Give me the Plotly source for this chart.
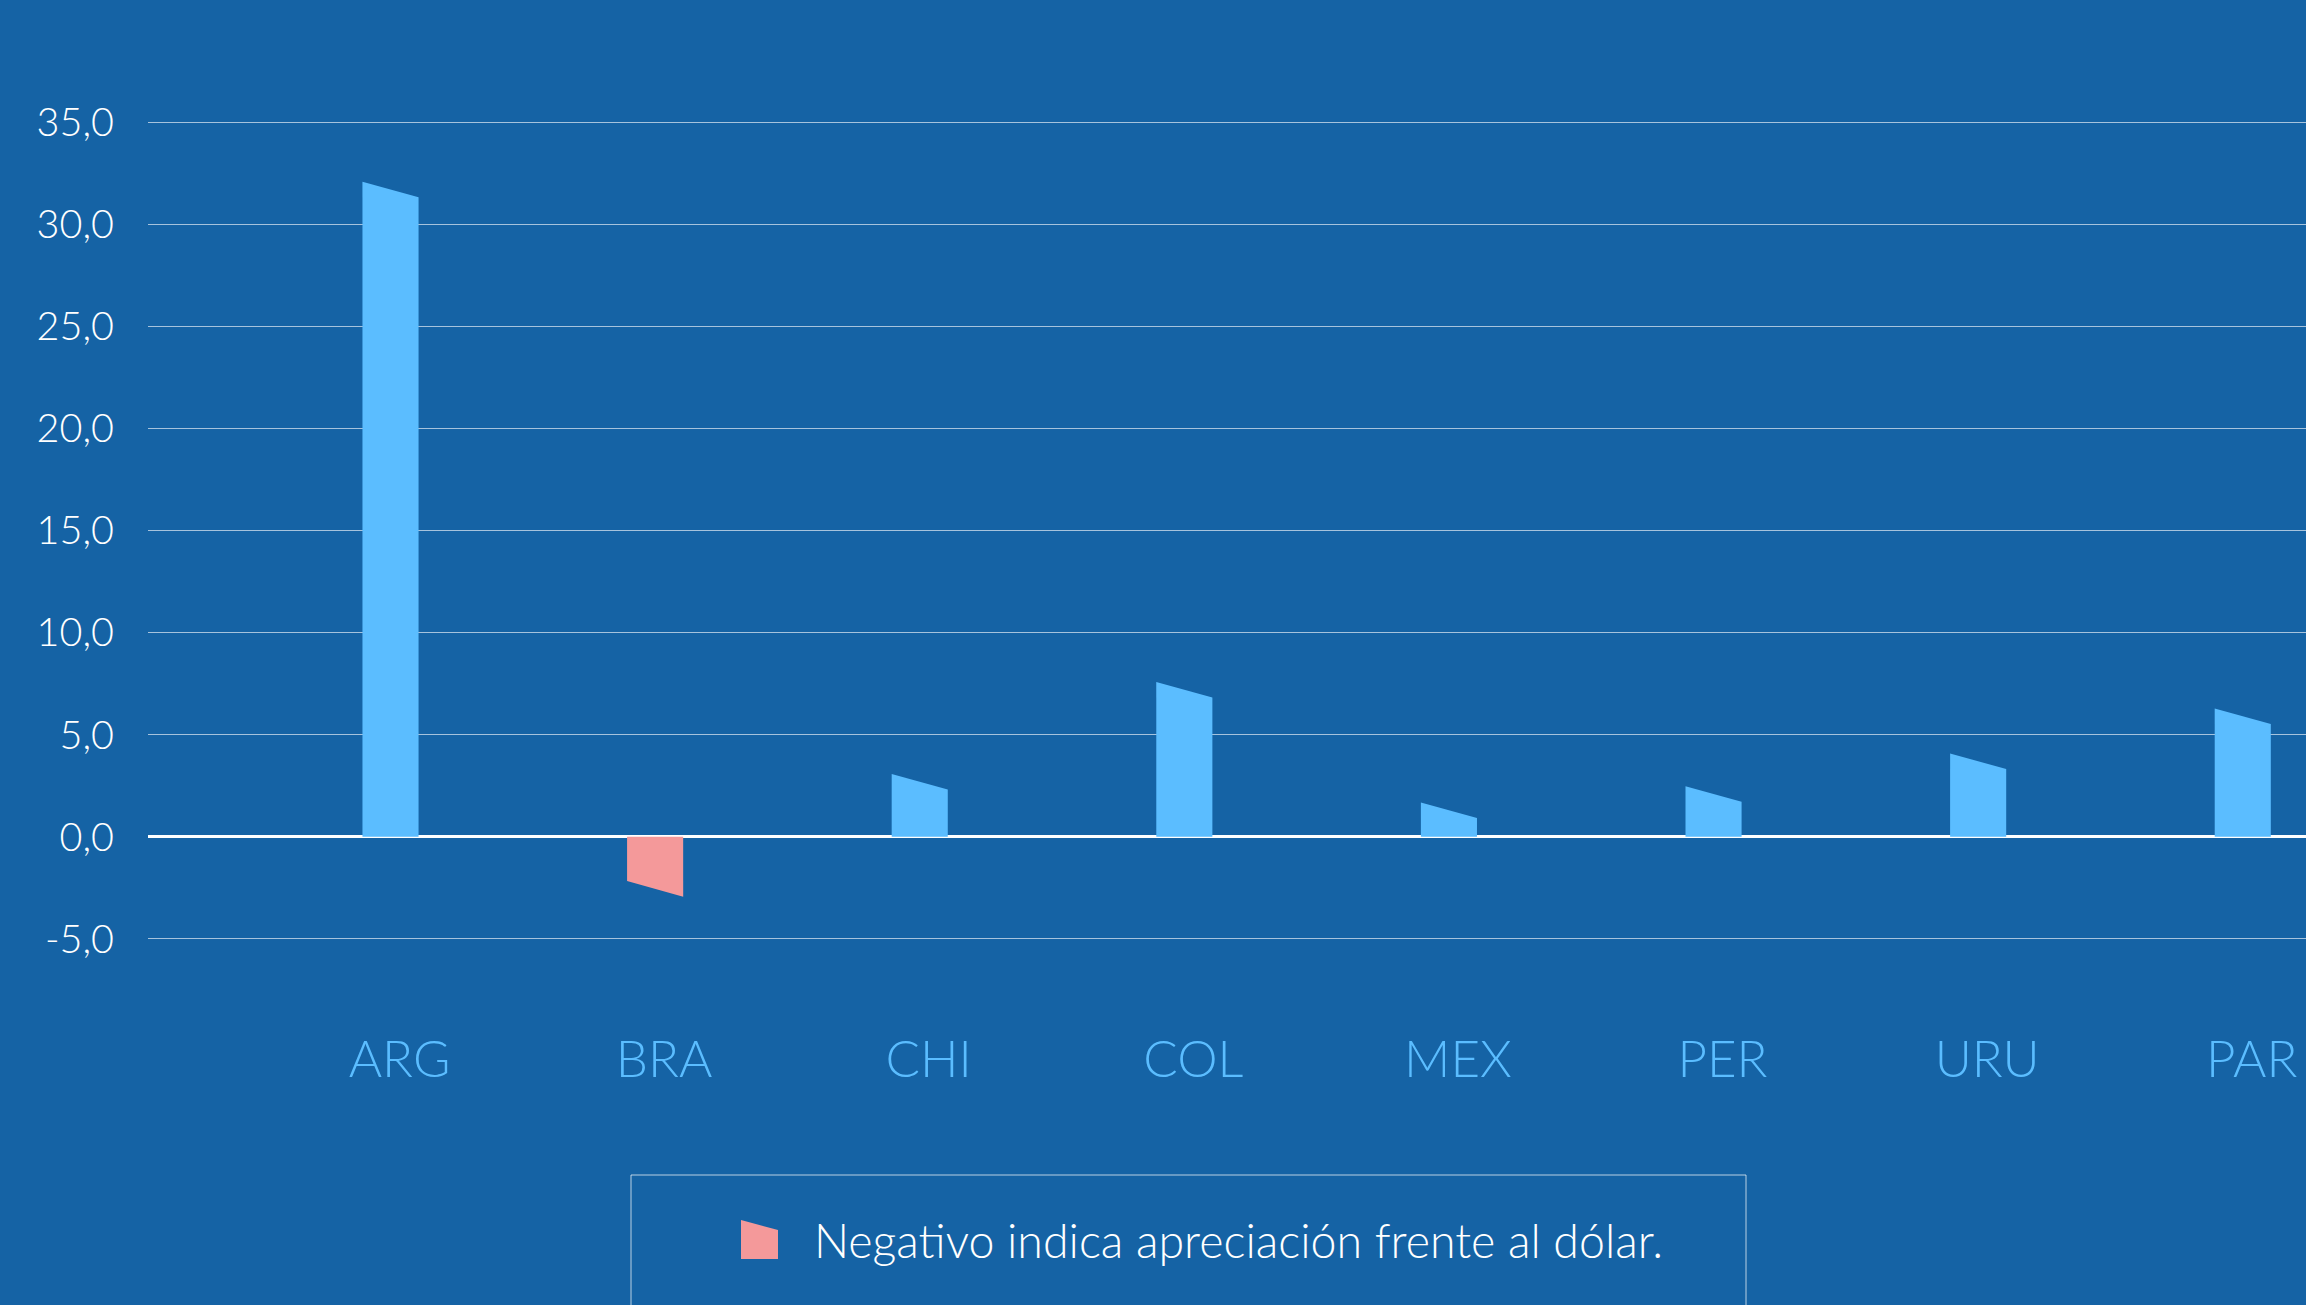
import plotly.graph_objects as go

# ---- data ----
categories = ["ARG", "BRA", "CHI", "COL", "MEX", "PER", "URU", "PAR"]
values = [31.7, -2.55, 2.7, 7.2, 1.3, 2.1, 3.7, 5.9]
y_tick_vals = [-5, 0, 5, 10, 15, 20, 25, 30, 35]
y_tick_text = ["-5,0", "0,0", "5,0", "10,0", "15,0", "20,0", "25,0", "30,0", "35,0"]
legend_text = "Negativo indica apreciación frente al dólar."

# ---- style ----
BG = "#1563a5"
POS = "#5bbdff"
NEG = "#f4999a"
FONT = "Lato"
W, H = 2306, 1305
ML, MR, MT, MB = 148, 0, 118, 362
XR = [-0.9505, 7.205]
YR = [-5.2, 35.2]
BAR_W = 0.212
BAR_OFF = -0.034
SLANT = 0.76

fig = go.Figure()
for i, (c, v) in enumerate(zip(categories, values)):
    x0 = i + BAR_OFF - BAR_W / 2
    x1 = i + BAR_OFF + BAR_W / 2
    xs = [x0, x0, x1, x1, x0]
    ys = [0, v + SLANT / 2, v - SLANT / 2, 0, 0]
    fig.add_trace(go.Scatter(
        x=xs, y=ys, mode="lines", fill="toself",
        fillcolor=POS if v >= 0 else NEG,
        line=dict(width=0, color=POS if v >= 0 else NEG),
        hoverinfo="skip", showlegend=False, name=c,
    ))

pw = W - ML - MR
ph = H - MT - MB


def px_x(p):
    return (p - ML) / pw


def px_y(p):
    return (H - MB - p) / ph


# legend box (extends below the picture)
fig.add_shape(type="rect", xref="paper", yref="paper",
              x0=px_x(631), x1=px_x(1746), y0=px_y(1400), y1=px_y(1175),
              line=dict(color="rgba(255,255,255,0.7)", width=1),
              fillcolor="rgba(0,0,0,0)", layer="above")
# legend symbol (flag shape)
sx0, sx1, sy_tl, sy_tr, sy_b = px_x(741), px_x(778), px_y(1220), px_y(1230), px_y(1259)
fig.add_shape(type="path", xref="paper", yref="paper",
              path=f"M {sx0} {sy_b} L {sx0} {sy_tl} L {sx1} {sy_tr} L {sx1} {sy_b} Z",
              fillcolor=NEG, line=dict(width=0), layer="above")
fig.add_annotation(xref="paper", yref="paper", x=px_x(812), y=px_y(1240),
                   xanchor="left", yanchor="middle", showarrow=False,
                   text=legend_text,
                   font=dict(family=FONT, size=46.5, color="white", weight=300))

fig.update_layout(
    width=W, height=H,
    margin=dict(l=ML, r=MR, t=MT, b=MB),
    paper_bgcolor=BG, plot_bgcolor=BG,
    showlegend=False,
    xaxis=dict(
        range=XR, tickmode="array", tickvals=list(range(len(categories))),
        ticktext=categories, showgrid=False, zeroline=False, showline=False,
        ticks="", ticklabelstandoff=82,
        tickfont=dict(family=FONT, size=51, color=POS, weight=300),
        fixedrange=True,
    ),
    yaxis=dict(
        range=YR, tickmode="array", tickvals=y_tick_vals, ticktext=y_tick_text,
        showgrid=True, gridcolor="rgba(255,255,255,0.62)", gridwidth=1,
        zeroline=True, zerolinecolor="white", zerolinewidth=3,
        showline=False, ticks="", ticklabelstandoff=33,
        tickfont=dict(family=FONT, size=39.5, color="white", weight=300),
        fixedrange=True,
    ),
)

fig.write_html(
    "out.html",
    config={"displayModeBar": False},
    post_script="document.body.style.margin='0';document.body.style.overflow='hidden';",
)
